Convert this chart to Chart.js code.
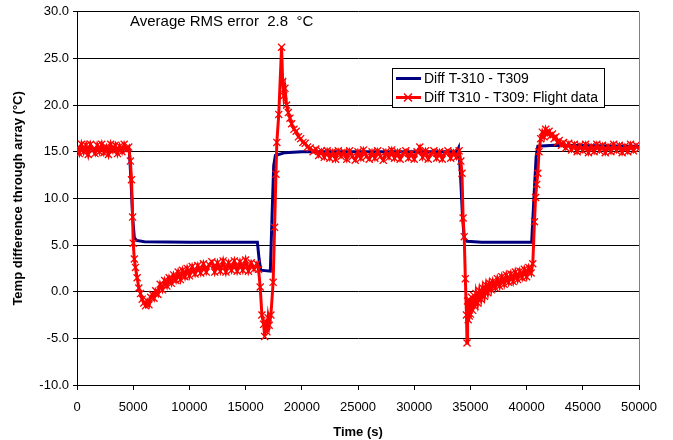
<!DOCTYPE html>
<html>
<head>
<meta charset="utf-8">
<script src="https://cdn.jsdelivr.net/npm/chart.js@4.4.0/dist/chart.umd.min.js"></script>
<style>
  html, body { margin: 0; padding: 0; background: #fff; }
  #wrap { width: 673px; height: 440px; position: relative; }
</style>
</head>
<body>
<div id="wrap"><canvas id="tempChart" width="673" height="440"></canvas></div>
<script>
// model: Diff T-310 - T309
var modelTime = [0, 4500, 4650, 4800, 4950, 5100, 5300, 6000, 10000, 16050, 16200, 16350, 17200, 17350, 17500, 17650, 18500, 20000,
	33800, 33950, 34100, 34300, 34450, 34700, 36000, 40450, 40650, 40850, 41000, 42500, 50000];
var modelDiff = [15.3, 15.3, 15.2, 12.0, 8.0, 5.8, 5.5, 5.35, 5.3, 5.3, 3.5, 2.3, 2.2, 8.0, 13.5, 14.6, 14.9, 15.0,
	15.0, 15.4, 13.0, 8.0, 5.7, 5.4, 5.3, 5.3, 10.0, 14.5, 15.6, 15.7, 15.6];

// flight data: Diff T310 - T309
var flightTime = [0, 200, 400, 600, 800, 1000, 1200, 1400, 1600, 1800, 2000, 2200, 2400, 2600, 2800, 3000, 3200, 3400, 3600, 3800,
	4000, 4200, 4400, 4600, 4750, 4850, 4950, 5000, 5100, 5200, 5350, 5500, 5650, 5800, 5950, 6100, 6250, 6400, 6550, 6700,
	6850, 7000, 7200, 7400, 7600, 7800, 8000, 8200, 8400, 8600, 8800, 9000, 9200, 9400, 9600, 9800, 10000, 10250, 10500, 10750,
	11000, 11250, 11500, 11750, 12000, 12250, 12500, 12750, 13000, 13250, 13500, 13750, 14000, 14250, 14500, 14750, 15000, 15250, 15500, 15750,
	16000, 16150, 16300, 16450, 16600, 16700, 16800, 16900, 17000, 17100, 17250, 17450, 17580, 17700, 17780, 17950, 18200, 18300, 18400, 18500,
	18650, 18800, 18950, 19100, 19300, 19500, 19700, 19900, 20100, 20300, 20500, 20750, 21000, 21250, 21500, 21750, 22000, 22250, 22500, 22750,
	23000, 23250, 23500, 23750, 24000, 24250, 24500, 24750, 25000, 25250, 25500, 25750, 26000, 26250, 26500, 26750, 27000, 27250, 27500, 27750,
	28000, 28250, 28500, 28750, 29000, 29250, 29500, 29750, 30000, 30250, 30500, 30750, 31000, 31250, 31500, 31750, 32000, 32250, 32500, 32750,
	33000, 33250, 33500, 33750, 34000, 34150, 34250, 34350, 34450, 34550, 34650, 34700, 34750, 34800, 34850, 34900, 34950, 35000, 35100, 35200,
	35300, 35400, 35500, 35650, 35800, 35950, 36100, 36250, 36400, 36550, 36700, 36850, 37000, 37200, 37400, 37600, 37800, 38000, 38200, 38400,
	38600, 38800, 39000, 39200, 39400, 39600, 39800, 40000, 40200, 40400, 40550, 40700, 40800, 40900, 41000, 41100, 41250, 41400, 41550, 41700,
	41850, 42000, 42150, 42300, 42450, 42600, 42750, 42900, 43100, 43300, 43500, 43750, 44000, 44250, 44500, 44750, 45000, 45250, 45500, 45750,
	46000, 46250, 46500, 46750, 47000, 47250, 47500, 47750, 48000, 48250, 48500, 48750, 49000, 49250, 49500, 49750, 50000];
var flightDiff = [15.4, 14.8, 15.8, 15.0, 15.7, 14.7, 15.8, 15.2, 14.8, 15.7, 15.0, 15.8, 14.9, 15.5, 14.7, 15.8, 15.1, 15.7, 14.8, 15.6,
	15.0, 15.8, 15.2, 15.5, 14.0, 12.0, 8.0, 5.2, 3.5, 2.6, 1.5, 0.4, -0.2, -0.8, -1.2, -1.5, -1.0, -1.4, -0.6, -0.3,
	-0.7, 0.1, -0.3, 0.8, 0.2, 1.2, 0.6, 1.5, 0.9, 1.8, 1.2, 2.1, 1.3, 2.3, 1.6, 2.5, 1.7, 2.7, 1.9, 2.8,
	2.0, 3.0, 2.1, 2.9, 3.2, 2.1, 3.1, 2.2, 3.3, 2.1, 3.1, 2.3, 3.3, 2.2, 3.2, 2.3, 3.4, 2.2, 3.1, 2.4,
	3.0, 2.4, 0.5, -2.5, -3.5, -4.8, -3.2, -4.3, -2.8, -3.6, -2.5, 1.0, 6.9, 12.6, 16.0, 19.0, 26.2, 22.5, 21.0, 21.8,
	20.0, 19.2, 18.6, 18.0, 17.4, 17.2, 16.6, 16.4, 16.0, 15.9, 15.5, 15.4, 15.0, 15.3, 14.6, 15.1, 14.4, 15.1, 14.3, 15.0,
	14.2, 15.1, 14.5, 15.0, 14.2, 15.1, 14.5, 14.1, 15.0, 14.3, 15.2, 14.5, 14.2, 15.0, 14.3, 15.1, 14.5, 14.1, 15.0, 14.4,
	15.2, 14.3, 15.0, 14.2, 14.8, 15.1, 14.3, 14.9, 14.2, 15.0, 15.5, 14.4, 15.1, 14.2, 14.8, 15.1, 14.3, 15.0, 14.2, 14.9,
	15.1, 14.3, 15.0, 14.4, 15.1, 14.0, 12.7, 7.9, 5.9, 1.4, -2.5, -5.5, -1.0, -3.0, -0.8, -2.6, -1.2, -2.4, -0.6, -2.0,
	-0.4, -1.6, -0.2, -1.2, 0.1, -0.8, 0.4, -0.5, 0.7, -0.1, 0.9, 0.2, 1.1, 0.4, 1.4, 0.6, 1.6, 0.8, 1.8, 1.0,
	1.9, 1.1, 2.1, 1.3, 2.2, 1.5, 2.4, 1.6, 2.6, 2.0, 3.0, 7.5, 10.1, 11.5, 12.7, 15.0, 16.4, 17.1, 16.6, 17.4,
	16.9, 17.2, 16.7, 16.9, 16.4, 16.6, 16.0, 16.2, 15.7, 16.0, 15.4, 15.9, 15.2, 15.8, 15.0, 15.7, 15.1, 15.8, 14.9, 15.6,
	15.0, 15.8, 15.1, 15.7, 14.9, 15.6, 15.0, 15.8, 15.1, 15.7, 14.9, 15.6, 15.0, 15.8, 15.1, 15.7, 15.3];

var timeTicks = [0, 5000, 10000, 15000, 20000, 25000, 30000, 35000, 40000, 45000, 50000];
var seriesNames = ['Diff T-310 - T309', 'Diff T310 - T309: Flight data'];
var rmsNote = 'Average RMS error  2.8  \u00B0C';

var fontFamily = '"Liberation Sans", Arial, sans-serif';
var navy = '#000080';
var red = '#FF0000';

function toPoints(xs, ys) {
	return xs.map(function (t, i) { return { x: t, y: ys[i] }; });
}

// draws right border, note text and boxed legend
var extrasPlugin = {
	id: 'extras',
	afterDraw: function (chart) {
		var ctx = chart.ctx;
		var area = chart.chartArea;
		ctx.save();
		ctx.strokeStyle = '#808080';
		ctx.lineWidth = 1;
		ctx.beginPath();
		ctx.moveTo(Math.round(area.right) + 0.5, area.top);
		ctx.lineTo(Math.round(area.right) + 0.5, area.bottom);
		ctx.stroke();

		ctx.fillStyle = '#000';
		ctx.font = '15px ' + fontFamily;
		ctx.textBaseline = 'middle';
		ctx.textAlign = 'left';
		ctx.fillText(rmsNote, 130, 22);

		// legend box
		var bx = 392.5, by = 68.5, bw = 212, bh = 39;
		ctx.fillStyle = '#fff';
		ctx.fillRect(bx, by, bw, bh);
		ctx.strokeStyle = '#000';
		ctx.lineWidth = 1;
		ctx.strokeRect(bx, by, bw, bh);

		ctx.lineWidth = 3;
		ctx.strokeStyle = navy;
		ctx.beginPath();
		ctx.moveTo(396, 78.5);
		ctx.lineTo(421, 78.5);
		ctx.stroke();

		ctx.strokeStyle = red;
		ctx.beginPath();
		ctx.moveTo(396, 97.5);
		ctx.lineTo(421, 97.5);
		ctx.stroke();
		ctx.lineWidth = 1.5;
		ctx.beginPath();
		ctx.moveTo(404, 93.5); ctx.lineTo(412, 101.5);
		ctx.moveTo(412, 93.5); ctx.lineTo(404, 101.5);
		ctx.stroke();

		ctx.fillStyle = '#000';
		ctx.font = '14px ' + fontFamily;
		ctx.fillText(seriesNames[0], 424, 79);
		ctx.fillText(seriesNames[1], 424, 98);
		ctx.restore();
	}
};

var ctx = document.getElementById('tempChart').getContext('2d');
var tempChart = new Chart(ctx, {
	type: 'scatter',
	data: {
		datasets: [{
			label: seriesNames[0],
			data: toPoints(modelTime, modelDiff),
			showLine: true,
			borderColor: navy,
			backgroundColor: navy,
			borderWidth: 3,
			pointRadius: 0,
			tension: 0,
			order: 1
		}, {
			label: seriesNames[1],
			data: toPoints(flightTime, flightDiff),
			showLine: true,
			borderColor: red,
			backgroundColor: red,
			borderWidth: 3,
			pointStyle: 'crossRot',
			pointRadius: 5,
			pointBorderWidth: 1.3,
			tension: 0,
			order: 0
		}]
	},
	options: {
		responsive: false,
		animation: false,
		layout: { padding: { top: 11, right: 34, left: 9, bottom: 0 } },
		plugins: {
			legend: { display: false },
			tooltip: { enabled: false }
		},
		scales: {
			x: {
				type: 'linear',
				min: 0,
				max: 50000,
				afterBuildTicks: function (scale) {
					scale.ticks = timeTicks.map(function (v) { return { value: v }; });
				},
				afterFit: function (scale) { scale.height = 55; },
				grid: { drawOnChartArea: false, drawTicks: true, tickLength: 5, color: '#000' },
				border: { color: '#000', width: 1 },
				ticks: { color: '#000', font: { family: fontFamily, size: 13 }, maxRotation: 0, padding: 10,
					callback: function (v) { return String(v); } },
				title: { display: true, text: 'Time (s)', color: '#000', padding: { top: 4, bottom: 0 },
					font: { family: fontFamily, size: 13, weight: 'bold' } }
			},
			y: {
				min: -10,
				max: 30,
				afterFit: function (scale) { scale.width = 68; },
				grid: { color: '#000', lineWidth: 1, tickLength: 4 },
				border: { color: '#000', width: 1 },
				ticks: { stepSize: 5, color: '#000', font: { family: fontFamily, size: 13 }, padding: 4,
					callback: function (v) { return v.toFixed(1); } },
				title: { display: true, text: 'Temp difference through array (\u00B0C)', color: '#000', padding: { top: 2, bottom: 2 },
					font: { family: fontFamily, size: 13, weight: 'bold' } }
			}
		}
	},
	plugins: [extrasPlugin]
});
</script>
</body>
</html>
